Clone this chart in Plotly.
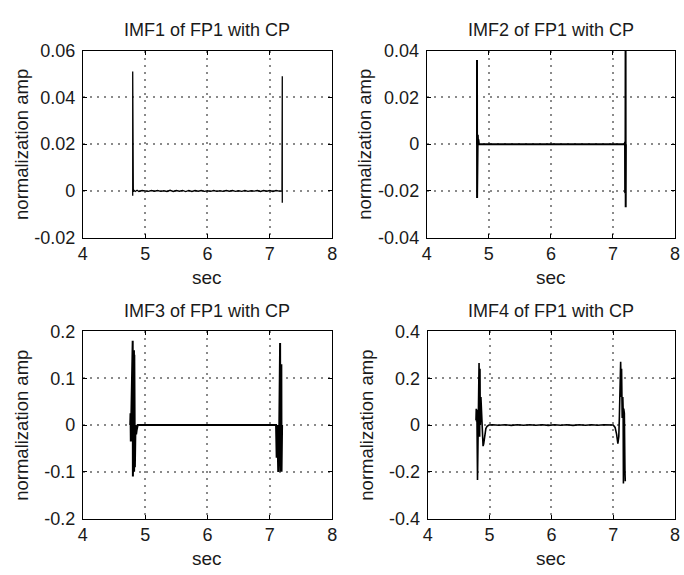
import plotly.graph_objects as go

# ---- IMF1 of FP1 with CP ----
imf1_t = [4.800, 4.800, 4.800, 4.805, 4.810, 4.820, 4.840, 4.870, 4.900, 4.950,
          5.000, 5.050, 5.100, 5.150, 5.200, 5.250, 5.300, 5.350, 5.400, 5.450,
          5.500, 5.550, 5.600, 5.650, 5.700, 5.750, 5.800, 5.850, 5.900, 5.950,
          6.000, 6.050, 6.100, 6.150, 6.200, 6.250, 6.300, 6.350, 6.400, 6.450,
          6.500, 6.550, 6.600, 6.650, 6.700, 6.750, 6.800, 6.850, 6.900, 6.950,
          7.000, 7.050, 7.100, 7.150, 7.195, 7.200, 7.200]
imf1_v = [-0.002, 0.051, 0.000, 0.0004, -0.0003, 0.0003, -0.0002, 0.0003, -0.0002, 0.0002,
          0.0001, -0.0002, 0.0002, -0.0001, 0.0002, -0.0002, 0.0001, -0.0002, 0.0003, -0.0002,
          0.0002, -0.0001, 0.0002, -0.0003, 0.0002, -0.0002, 0.0002, -0.0001, 0.0002, -0.0002,
          0.0001, -0.0002, 0.0002, -0.0002, 0.0001, -0.0002, 0.0002, -0.0001, 0.0002, -0.0002,
          0.0001, -0.0002, 0.0002, -0.0002, 0.0001, -0.0001, 0.0002, -0.0002, 0.0002, -0.0001,
          0.0002, -0.0002, 0.0002, -0.0001, 0.000, 0.049, -0.005]

# ---- IMF2 of FP1 with CP ----
imf2_t = [4.810, 4.810, 4.811, 4.812, 4.813, 4.814, 4.815, 4.818, 4.822, 4.826,
          4.832, 4.840, 5.500, 6.500, 7.190, 7.194, 7.196, 7.198, 7.200, 7.203,
          7.205, 7.208]
imf2_v = [0.000, 0.036, -0.023, 0.009, -0.021, 0.008, -0.020, 0.003, 0.004, 0.001,
          0.002, 0.000, 0.000, 0.000, 0.000, 0.001, -0.021, 0.001, -0.020, 0.046,
          -0.027, 0.000]

# ---- IMF3 of FP1 with CP ----
imf3_t = [4.760, 4.765, 4.770, 4.775, 4.780, 4.785, 4.800, 4.803, 4.820, 4.823,
          4.826, 4.829, 4.832, 4.835, 4.845, 4.855, 4.865, 4.880, 5.500, 6.500,
          7.100, 7.110, 7.120, 7.135, 7.150, 7.165, 7.170, 7.185, 7.188, 7.191,
          7.194, 7.197]
imf3_v = [0.000, 0.025, -0.035, 0.022, -0.030, 0.020, 0.180, -0.110, 0.160, -0.100,
          0.150, -0.095, 0.140, -0.090, 0.000, -0.020, -0.010, 0.000, 0.000, 0.000,
          0.000, -0.070, 0.000, -0.100, -0.020, 0.175, -0.100, 0.130, -0.100, 0.120,
          -0.095, 0.000]

# ---- IMF4 of FP1 with CP (onset burst, quiet stretch, offset burst) ----
imf4_on_t = [4.780, 4.785, 4.790, 4.795, 4.805, 4.830, 4.840, 4.845, 4.850, 4.860,
             4.870, 4.880, 4.895, 4.905, 4.920, 4.940, 4.960, 4.990]
imf4_on_v = [0.020, 0.070, 0.015, 0.065, -0.235, 0.265, -0.050, 0.240, 0.000, 0.120,
             0.050, -0.060, -0.090, -0.080, -0.040, -0.015, -0.005, 0.000]
imf4_mid_t = [5.05, 5.15, 5.25, 5.35, 5.45, 5.55, 5.65, 5.75, 5.85, 5.95,
              6.05, 6.15, 6.25, 6.35, 6.45, 6.55, 6.65, 6.75, 6.85, 6.95]
imf4_mid_v = [0.0015, -0.001, 0.0015, -0.0015, 0.001, -0.001, 0.0015, -0.001, 0.001, -0.0015,
              0.0015, -0.001, 0.001, -0.0015, 0.0015, -0.001, 0.0015, -0.001, 0.001, -0.0015]
imf4_off_t = [7.000, 7.030, 7.055, 7.075, 7.090, 7.100, 7.120, 7.130, 7.135, 7.145,
              7.155, 7.160, 7.165, 7.170, 7.180, 7.190, 7.195]
imf4_off_v = [0.000, -0.010, -0.040, -0.080, -0.050, 0.040, 0.270, 0.120, 0.240, 0.030,
              0.120, 0.070, -0.250, 0.070, 0.050, -0.200, -0.240]
imf4_t = imf4_on_t + imf4_mid_t + imf4_off_t
imf4_v = imf4_on_v + imf4_mid_v + imf4_off_v

titles = ["IMF1 of FP1 with CP", "IMF2 of FP1 with CP",
          "IMF3 of FP1 with CP", "IMF4 of FP1 with CP"]
x_ticks = [4, 5, 6, 7, 8]
y_ticks = [
    [-0.02, 0, 0.02, 0.04, 0.06],
    [-0.04, -0.02, 0, 0.02, 0.04],
    [-0.2, -0.1, 0, 0.1, 0.2],
    [-0.4, -0.2, 0, 0.2, 0.4],
]
y_tick_text = [
    ["-0.02", "0", "0.02", "0.04", "0.06"],
    ["-0.04", "-0.02", "0", "0.02", "0.04"],
    ["-0.2", "-0.1", "0", "0.1", "0.2"],
    ["-0.4", "-0.2", "0", "0.2", "0.4"],
]
series = [(imf1_t, imf1_v, 1.3), (imf2_t, imf2_v, 2.0),
          (imf3_t, imf3_v, 2.0), (imf4_t, imf4_v, 1.6)]

W, H = 684, 575
# plot-area boxes in pixels: (left, right, top, bottom)
boxes = [(79, 332, 42, 236), (428, 680, 42, 236),
         (79, 332, 333, 527), (429, 680, 333, 527)]

FONT = "Liberation Sans, Arial, sans-serif"
INK = "#1a1a1a"

fig = go.Figure()
layout = dict(
    width=W, height=H,
    margin=dict(l=0, r=0, t=0, b=0),
    paper_bgcolor="white", plot_bgcolor="white",
    showlegend=False,
    font=dict(family=FONT, size=18, color=INK),
)
annotations = []

for i, ((t, v, lw), (l, r, tp, bt)) in enumerate(zip(series, boxes)):
    n = "" if i == 0 else str(i + 1)
    fig.add_trace(go.Scatter(
        x=t, y=v, mode="lines",
        line=dict(color="black", width=lw),
        xaxis="x" + n, yaxis="y" + n,
        hoverinfo="skip",
    ))
    common = dict(
        showline=True, linecolor="black", linewidth=1, mirror="ticks",
        ticks="inside", ticklen=4, tickcolor="black",
        showgrid=True, gridcolor="#8a8a8a", griddash="2px,5px", gridwidth=1.5,
        zeroline=False,
        tickfont=dict(family=FONT, size=18, color=INK),
    )
    layout["xaxis" + n] = dict(
        common,
        domain=[l / W, r / W], anchor="y" + n,
        range=[4, 8], tickvals=x_ticks,
        ticktext=[str(x) for x in x_ticks],
    )
    layout["yaxis" + n] = dict(
        common,
        domain=[1 - bt / H, 1 - tp / H], anchor="x" + n,
        range=[y_ticks[i][0], y_ticks[i][-1]],
        tickvals=y_ticks[i], ticktext=y_tick_text[i],
        ticklabelstandoff=3,
    )
    cx = (l + r) / 2 / W
    annotations.append(dict(
        text=titles[i], x=cx, y=1 - (tp - 21) / H,
        xref="paper", yref="paper", showarrow=False,
        xanchor="center", yanchor="middle",
        font=dict(family=FONT, size=18, color=INK),
    ))
    annotations.append(dict(
        text="sec", x=cx, y=1 - (bt + 41) / H,
        xref="paper", yref="paper", showarrow=False,
        xanchor="center", yanchor="middle",
        font=dict(family=FONT, size=19, color=INK),
    ))
    annotations.append(dict(
        text="normalization amp", x=(l - 63) / W, y=1 - (tp + bt) / 2 / H,
        xref="paper", yref="paper", showarrow=False, textangle=-90,
        xanchor="center", yanchor="middle",
        font=dict(family=FONT, size=18.5, color=INK),
    ))

layout["annotations"] = annotations
fig.update_layout(**layout)
fig.write_html("out.html")
